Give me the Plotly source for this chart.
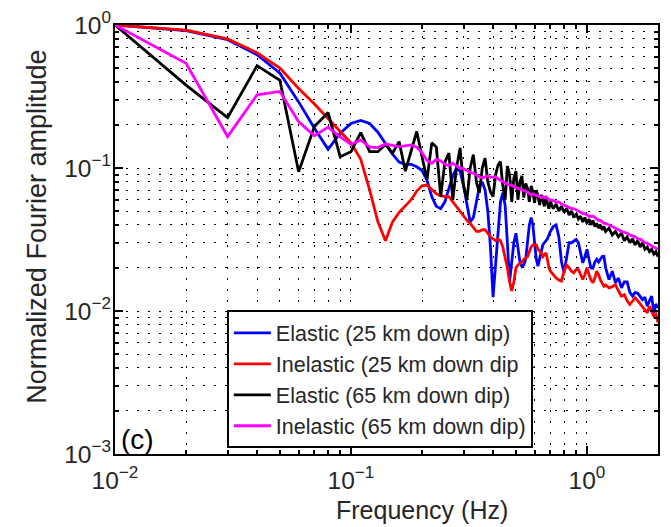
import math
import plotly.graph_objects as go

# Frequency samples (Hz)
freq_hz = [
    0.01, 0.02, 0.03, 0.04, 0.05, 0.06, 0.07, 0.08, 0.09, 0.10,
    0.11, 0.12, 0.13, 0.14, 0.15, 0.16, 0.17, 0.18, 0.19, 0.20,
    0.21, 0.22, 0.23, 0.24, 0.25, 0.26, 0.27, 0.28, 0.29, 0.30,
    0.31, 0.32, 0.33, 0.34, 0.35, 0.36, 0.37, 0.38, 0.39, 0.40,
    0.41, 0.42, 0.43, 0.44, 0.45, 0.46, 0.47, 0.48, 0.49, 0.50,
    0.51, 0.52, 0.53, 0.54, 0.55, 0.56, 0.57, 0.58, 0.59, 0.60,
    0.61, 0.62, 0.63, 0.64, 0.65, 0.66, 0.67, 0.68, 0.69, 0.70,
    0.72, 0.74, 0.76, 0.78, 0.80, 0.82, 0.84, 0.86, 0.88, 0.90,
    0.92, 0.94, 0.96, 0.98, 1.00, 1.02, 1.04, 1.06, 1.08, 1.10,
    1.12, 1.14, 1.16, 1.18, 1.20,
    1.24, 1.28, 1.32, 1.36, 1.40, 1.44, 1.48, 1.52, 1.56, 1.60,
    1.64, 1.68, 1.72, 1.76, 1.80, 1.84, 1.88, 1.92, 1.96, 2.00,
]

elastic_25 = [
    1.0, 0.915, 0.79, 0.62, 0.46, 0.29, 0.19, 0.135, 0.175, 0.205,
    0.215, 0.205, 0.178, 0.148, 0.125, 0.11, 0.106, 0.106, 0.102, 0.096,
    0.082, 0.063, 0.054, 0.052, 0.058, 0.072, 0.088, 0.100, 0.095, 0.075,
    0.055, 0.042, 0.045, 0.058, 0.074, 0.080, 0.070, 0.050, 0.028, 0.0125,
    0.022, 0.040, 0.058, 0.067, 0.055, 0.030, 0.016, 0.022, 0.030, 0.035,
    0.028, 0.022, 0.0205, 0.021, 0.023, 0.030, 0.040, 0.045, 0.040, 0.030,
    0.023, 0.0206, 0.023, 0.026, 0.029, 0.030, 0.031, 0.032, 0.034, 0.036,
    0.039, 0.040, 0.033, 0.022, 0.0185, 0.024, 0.030, 0.030, 0.031, 0.0316,
    0.030, 0.025, 0.0217, 0.024, 0.027, 0.023, 0.020, 0.0199, 0.022, 0.023,
    0.022, 0.023, 0.024, 0.0241, 0.020,
    0.0166, 0.019, 0.0158, 0.017, 0.0145, 0.016, 0.016, 0.0135, 0.0127, 0.0135,
    0.0133, 0.0125, 0.012, 0.0125, 0.0108, 0.0118, 0.0127, 0.0097, 0.0112, 0.0105,
]

inelastic_25 = [
    1.0, 0.92, 0.80, 0.64, 0.50, 0.36, 0.28, 0.22, 0.18, 0.15,
    0.115, 0.07, 0.042, 0.031, 0.042, 0.049, 0.054, 0.060, 0.069, 0.075,
    0.076, 0.071, 0.066, 0.064, 0.063, 0.063, 0.058, 0.053, 0.050, 0.046,
    0.043, 0.041, 0.038, 0.036, 0.036, 0.037, 0.037, 0.035, 0.033, 0.032,
    0.031, 0.032, 0.031, 0.028, 0.024, 0.020, 0.016, 0.0138, 0.016, 0.020,
    0.021, 0.0215, 0.022, 0.023, 0.0235, 0.024, 0.026, 0.028, 0.029, 0.029,
    0.029, 0.027, 0.026, 0.0255, 0.024, 0.025, 0.0255, 0.023, 0.020, 0.019,
    0.018, 0.017, 0.0165, 0.0162, 0.019, 0.021, 0.020, 0.019, 0.0185, 0.0195,
    0.0195, 0.018, 0.0166, 0.018, 0.020, 0.018, 0.0165, 0.0158, 0.017, 0.019,
    0.018, 0.0165, 0.0155, 0.0149, 0.0152,
    0.0145, 0.0148, 0.0153, 0.0138, 0.0127, 0.013, 0.0118, 0.0111, 0.0118, 0.0124,
    0.0118, 0.0112, 0.0108, 0.0103, 0.0097, 0.0108, 0.0098, 0.0092, 0.0095, 0.0083,
]

elastic_65 = [
    1.0, 0.38, 0.225, 0.52, 0.41, 0.094, 0.195, 0.244, 0.12, 0.13,
    0.177, 0.13, 0.13, 0.146, 0.127, 0.153, 0.095, 0.13, 0.18, 0.12,
    0.083, 0.15, 0.14, 0.063, 0.11, 0.127, 0.06, 0.10, 0.138, 0.075,
    0.06, 0.10, 0.124, 0.08, 0.067, 0.10, 0.117, 0.08, 0.068, 0.063,
    0.09, 0.105, 0.111, 0.075, 0.06, 0.103, 0.09, 0.058, 0.085, 0.095,
    0.06, 0.08, 0.088, 0.062, 0.078, 0.072, 0.058, 0.075, 0.068, 0.057,
    0.07, 0.064, 0.055, 0.065, 0.06, 0.054, 0.062, 0.057, 0.052, 0.058,
    0.052, 0.056, 0.05, 0.054, 0.049, 0.052, 0.047, 0.05, 0.045, 0.048,
    0.044, 0.046, 0.042, 0.045, 0.041, 0.044, 0.040, 0.043, 0.039, 0.041,
    0.038, 0.040, 0.037, 0.039, 0.036,
    0.038, 0.034, 0.036, 0.033, 0.035, 0.031, 0.033, 0.030, 0.032, 0.029,
    0.031, 0.028, 0.030, 0.027, 0.028, 0.026, 0.027, 0.025, 0.026, 0.024,
]

inelastic_65 = [
    1.0, 0.54, 0.166, 0.325, 0.343, 0.21, 0.168, 0.193, 0.165, 0.146,
    0.157, 0.14, 0.139, 0.147, 0.144, 0.141, 0.143, 0.145, 0.14, 0.128,
    0.113, 0.108, 0.115, 0.112, 0.106, 0.104, 0.108, 0.103, 0.100, 0.099,
    0.096, 0.093, 0.092, 0.090, 0.087, 0.085, 0.087, 0.088, 0.086, 0.087,
    0.087, 0.084, 0.082, 0.080, 0.078, 0.077, 0.076, 0.076, 0.074, 0.073,
    0.072, 0.071, 0.071, 0.070, 0.069, 0.068, 0.066, 0.065, 0.066, 0.065,
    0.064, 0.064, 0.063, 0.062, 0.063, 0.062, 0.063, 0.061, 0.060, 0.060,
    0.059, 0.058, 0.058, 0.056, 0.055, 0.054, 0.053, 0.052, 0.052, 0.051,
    0.050, 0.049, 0.048, 0.048, 0.047, 0.046, 0.046, 0.046, 0.045, 0.044,
    0.043, 0.043, 0.042, 0.041, 0.041,
    0.040, 0.039, 0.038, 0.037, 0.036, 0.0355, 0.035, 0.034, 0.0335, 0.033,
    0.032, 0.0318, 0.031, 0.030, 0.0298, 0.029, 0.0285, 0.028, 0.0275, 0.027,
]

series_names = [
    "Elastic (25 km down dip)",
    "Inelastic (25 km down dip",
    "Elastic (65 km down dip)",
    "Inelastic (65 km down dip)",
]
series_colors = ["#0000FF", "#FF0000", "#000000", "#FF00FF"]
series_values = [elastic_25, inelastic_25, elastic_65, inelastic_65]

x_tick_vals = [0.01, 0.1, 1]
x_tick_text = ["10<sup>\u22122</sup>", "10<sup>\u22121</sup>", "10<sup>0</sup>"]
y_tick_vals = [0.001, 0.01, 0.1, 1]
y_tick_text = ["10<sup>\u22123</sup>", "10<sup>\u22122</sup>", "10<sup>\u22121</sup>", "10<sup>0</sup>"]

x_minor = [k * 10 ** e for e in (-2, -1) for k in range(2, 10)]
y_minor = [k * 10 ** e for e in (-3, -2, -1) for k in range(2, 10)]

FONT = "Liberation Sans, Arial, Helvetica, sans-serif"
TXT = "#262626"
DOT = "2px,9px"

fig = go.Figure()
for name, color, vals in zip(series_names, series_colors, series_values):
    fig.add_trace(go.Scatter(
        x=freq_hz, y=vals, mode="lines", name=name,
        line=dict(color=color, width=2.8),
    ))

axis_common = dict(
    type="log", automargin=False, ticklabeloverflow="allow",
    ticks="inside", ticklen=8, tickwidth=1.5, tickcolor="black",
    showline=True, linewidth=2.2, linecolor="black", mirror="allticks",
    showgrid=True, gridcolor="black", gridwidth=1, griddash=DOT,
    zeroline=False,
    tickfont=dict(family=FONT, size=24.5, color=TXT),
)

fig.update_xaxes(
    **axis_common,
    range=[-2, math.log10(2)],
    tickvals=x_tick_vals, ticktext=x_tick_text,
    ticklabelstandoff=3,
    minor=dict(tickvals=x_minor, ticks="inside", ticklen=4, tickcolor="black",
               showgrid=True, gridcolor="black", gridwidth=1, griddash=DOT),
)
fig.update_yaxes(
    **axis_common,
    range=[-3, 0],
    tickvals=y_tick_vals, ticktext=y_tick_text,
    ticklabelstandoff=-3,
    minor=dict(tickvals=y_minor, ticks="inside", ticklen=4, tickcolor="black",
               showgrid=True, gridcolor="black", gridwidth=1, griddash=DOT),
)

# axis titles
fig.add_annotation(
    x=0.565, y=-0.1317, xref="paper", yref="paper", xanchor="center", yanchor="middle",
    text="Frequency (Hz)", showarrow=False, font=dict(family=FONT, size=25, color=TXT),
)
fig.add_annotation(
    x=-0.1436, y=0.530, xref="paper", yref="paper", xanchor="center", yanchor="middle",
    text="Normalized Fourier amplitude", textangle=-90, showarrow=False,
    font=dict(family=FONT, size=27, color=TXT),
)
fig.add_annotation(
    x=0.008, y=-0.008, xref="paper", yref="paper", xanchor="left", yanchor="bottom",
    text="(c)", showarrow=False, font=dict(family=FONT, size=28, color="black"),
)

# page body adds an 8px offset, so margins are shifted accordingly
fig.update_layout(
    width=671, height=527,
    margin=dict(l=107, r=21, t=17, b=81),
    paper_bgcolor="white", plot_bgcolor="white",
    font=dict(family=FONT, color=TXT),
    legend=dict(
        x=0.206, y=0.013, xanchor="left", yanchor="bottom",
        bgcolor="white", bordercolor="black", borderwidth=2,
        font=dict(family=FONT, size=21.5, color=TXT),
        itemwidth=37, tracegroupgap=0,
    ),
)

fig.write_html("out.html")
